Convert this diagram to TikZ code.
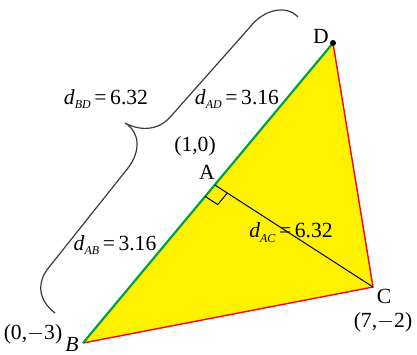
\documentclass[tikz,border=0pt]{standalone}
\usepackage{fontspec}
\setmainfont{Liberation Serif}
\usetikzlibrary{calc}
\newcommand{\dsub}[2]{\textit{d}\raisebox{-0.5ex}{\fontsize{6}{6}\selectfont\textit{#1}}\,=\,#2}
\tikzset{
  lbl/.style={inner sep=0pt, font=\fontsize{10.8}{12}\selectfont},
  greenedge/.style={draw={rgb,255:red,0;green,160;blue,70}, line width=1.1pt},
  rededge/.style={draw=red, line width=0.7pt},
  blackline/.style={draw=black, line width=0.5pt},
  bracestyle/.style={draw={rgb,255:red,60;green,60;blue,60}, line width=0.6pt},
}
\begin{document}
\begin{tikzpicture}[x=0.5pt, y=-0.5pt]
\useasboundingbox (0,0) rectangle (417,354);
\coordinate (D) at (333,43);
\coordinate (B) at (83,343);
\coordinate (C) at (373,287);
\coordinate (A) at ($(D)!0.473!(B)$);
% triangle fill
\fill[yellow] (B) -- (D) -- (C) -- cycle;
\path[rededge] (B) -- (C) -- (D);
\path[greenedge] (B) -- (D);
\path[blackline] (A) -- (C);
% right-angle marker
\coordinate (Q1) at ($(A)!7.5pt!(C)$);
\coordinate (Q2) at ($(A)!7.5pt!(B)$);
\path[blackline] (Q1) -- ($(Q1)+(Q2)-(A)$) -- (Q2);
\fill (D) circle (3);
% brace
\path[bracestyle] (55,313) .. controls (38,300) and (36,282) .. (50,266) -- (128,168) .. controls (141,151) and (140,132) .. (125,123) .. controls (142,132) and (160,130) .. (172,115) -- (250,27) .. controls (263,10) and (286,4) .. (298,17);
% labels
\node[lbl] (lBD) at (106,99) {\dsub{BD}{6.32}};
\node[lbl] (lAD) at (237,99) {\dsub{AD}{3.16}};
\node[lbl] (lAB) at (115,245) {\dsub{AB}{3.16}};
\node[lbl] (lAC) at (291,233) {\dsub{AC}{6.32}};
\node[lbl] (c10) at (195,146) {(1,0)};
\node[lbl] (nA) at (207,172) {A};
\node[lbl] (nD) at (321,36) {D};
\node[lbl] (nC) at (384,296) {C};
\node[lbl] (c72) at (383,322) {(7,$-$2)};
\node[lbl] (c03) at (33,334) {(0,$-$3)};
\node[lbl] (nB) at (72,344) {\textit{B}};
\end{tikzpicture}
\end{document}
